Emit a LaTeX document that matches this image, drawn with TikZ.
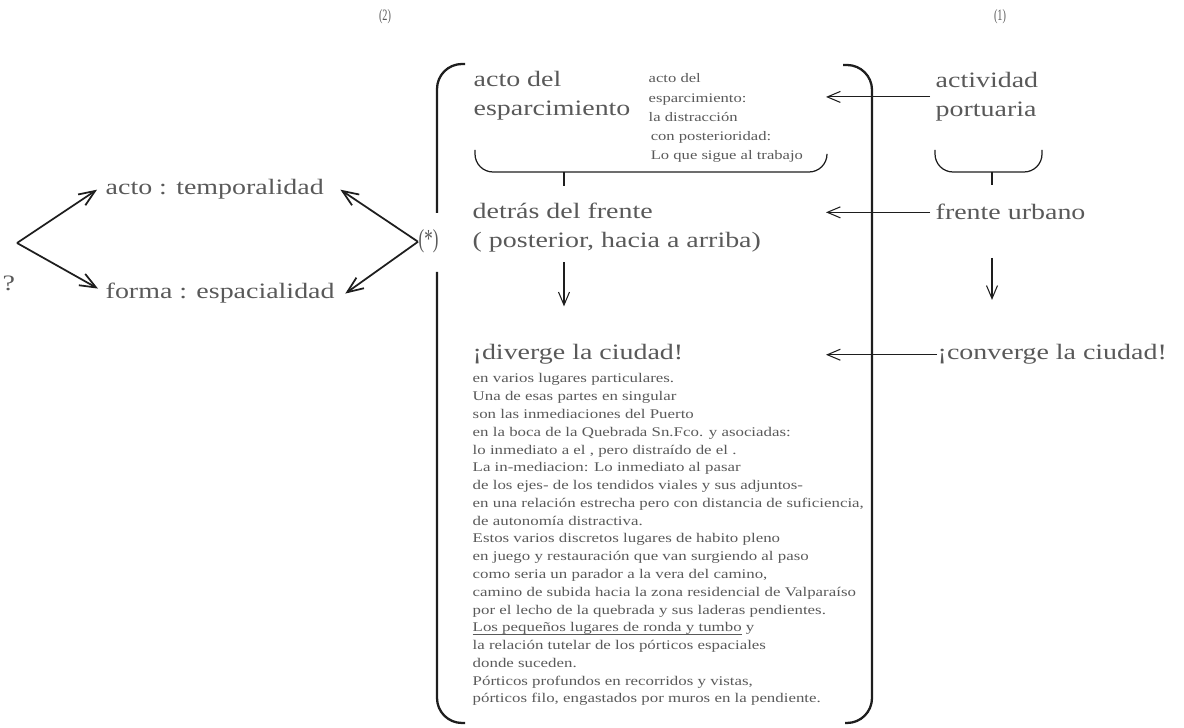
\documentclass[tikz,border=0pt]{standalone}
\usepackage{fontspec}
\setmainfont{Liberation Serif}[FakeStretch=1.27]
\newfontfamily\narrowserif{Liberation Serif}[FakeStretch=0.65]
\usepackage{tikz}
\usetikzlibrary{arrows.meta}
\definecolor{inkGray}{HTML}{595959}
\definecolor{lineBlack}{HTML}{1E1E1E}
\newcommand\underrule[1]{\setbox0\hbox{#1}\rlap{\rule[-0.75pt]{\wd0}{0.16pt}}\box0\relax}

\begin{document}
\begin{tikzpicture}[
  big/.style={anchor=base west, inner sep=0pt, align=left, text=inkGray,
              font=\fontsize{6.26}{8.4}\selectfont},
  note/.style={anchor=base west, inner sep=0pt, align=left, text=inkGray,
              font=\fontsize{3.72}{5.48}\selectfont},
  body/.style={anchor=base west, inner sep=0pt, align=left, text=inkGray,
              font=\fontsize{3.78}{5.06}\selectfont},
  tag/.style={inner sep=0pt, text=inkGray, font=\narrowserif\fontsize{4.5}{5}\selectfont},
  ar/.style={-{Straight Barb[length=1.3mm,width=1.1mm]}, draw=lineBlack, line width=0.3pt},
  fat/.style={-{Straight Barb[length=1.6mm,width=1.3mm]}, draw=lineBlack, line width=0.5pt},
  brk/.style={draw=lineBlack, line width=0.65pt, rounded corners=2.5mm},
  brc/.style={draw=lineBlack, line width=0.35pt, rounded corners=1.8mm}
]
\useasboundingbox (0,0) rectangle (11.84,7.28);

% column headings
\node[tag] (hdTwo) at (3.85,7.11) {(2)};
\node[tag] (hdOne) at (10.00,7.11) {(1)};

% column (2) -- multi-line nodes sit on their last baseline
\node[big]  (actEsp) at (4.73,6.12) {acto del\\esparcimiento};
\node[note] (actDef) at (6.48,5.68) {acto del\\esparcimiento:\\la distracción\\\hspace{0.6pt}con posterioridad:\\\hspace{0.6pt}Lo que sigue al trabajo};
\node[big]  (detras) at (4.72,4.80) {detrás del frente\\( posterior, hacia a arriba)};
\node[big]  (diverge) at (4.72,3.68) {¡diverge la ciudad!};
\node[body] (lugares) at (4.72,0.25) {en varios lugares particulares.\\
Una de esas partes en singular\\
son las inmediaciones del Puerto\\
en la boca de la Quebrada Sn.Fco. y asociadas:\\
lo inmediato a el , pero distraído de el .\\
La in-mediacion: Lo inmediato al pasar\\
de los ejes- de los tendidos viales y sus adjuntos-\\
en una relación estrecha pero con distancia de suficiencia,\\
de autonomía distractiva.\\
Estos varios discretos lugares de habito pleno\\
en juego y restauración que van surgiendo al paso\\
como seria un parador a la vera del camino,\\
camino de subida hacia la zona residencial de Valparaíso\\
por el lecho de la quebrada y sus laderas pendientes.\\
\underrule{Los pequeños lugares de ronda y tumbo} y\\
la relación tutelar de los pórticos espaciales\\
donde suceden.\\
Pórticos profundos en recorridos y vistas,\\
pórticos filo, engastados por muros en la pendiente.};

% column (1)
\node[big] (actPort) at (9.35,6.11) {actividad\\portuaria};
\node[big] (frente) at (9.35,5.08) {frente urbano};
\node[big] (converge) at (9.37,3.68) {¡converge la ciudad!};

% left side
\node[big] (tempo) at (1.05,5.33) {acto : temporalidad};
\node[big] (espac) at (1.05,4.29) {forma : espacialidad};
\node[big] (qmark) at (0.02,4.37) {?};
\node[tag, anchor=base west, font=\narrowserif\fontsize{7.4}{8}\selectfont] (star) at (4.18,4.80) {(*)};

\coordinate (qv) at (0.17,4.85);
\coordinate (tipx) at (8.26,0);
\coordinate (tickL) at (5.64,5.56);
\coordinate (tickR) at (9.92,5.56);

% big bracket
\draw[brk] (4.65,6.64) -- (4.37,6.64) -- (4.37,5.15);
\draw[brk] (4.37,4.56) -- (4.37,0.05) -- (4.65,0.05);
\draw[brk] (8.43,6.63) -- (8.72,6.63) -- (8.72,0.05) -- (8.45,0.05);

% braces
\draw[brc] (4.75,5.78) -- (4.75,5.56) -- (8.27,5.56) -- (8.27,5.73);
\draw[lineBlack, line width=0.35pt] (tickL) -- ++(0,-0.14);
\draw[brc] (9.35,5.78) -- (9.35,5.56) -- (10.42,5.56) -- (10.42,5.78);
\draw[lineBlack, line width=0.35pt] (tickR) -- ++(0,-0.13);

% arrows
\draw[fat] (qv) -- ([xshift=-0.08cm]tempo.west);
\draw[fat] (qv) -- ([xshift=-0.07cm,yshift=0.05cm]espac.west);
\draw[fat] (star.west) -- ([xshift=0.16cm]tempo.east);
\draw[fat] (star.west) -- ([xshift=0.1cm]espac.east);

\draw[ar] ([xshift=-0.05cm]actPort.west) -- (actPort.west -| tipx);
\draw[ar] ([xshift=-0.05cm]frente.west) -- (frente.west -| tipx);
\draw[ar] (converge.west) -- (converge.west -| tipx);

\draw[ar] ([yshift=-0.09cm]detras.south -| tickL) -- ++(0,-0.44);
\draw[ar] ([yshift=-0.37cm]frente.south -| tickR) -- ++(0,-0.42);
\end{tikzpicture}
\end{document}
